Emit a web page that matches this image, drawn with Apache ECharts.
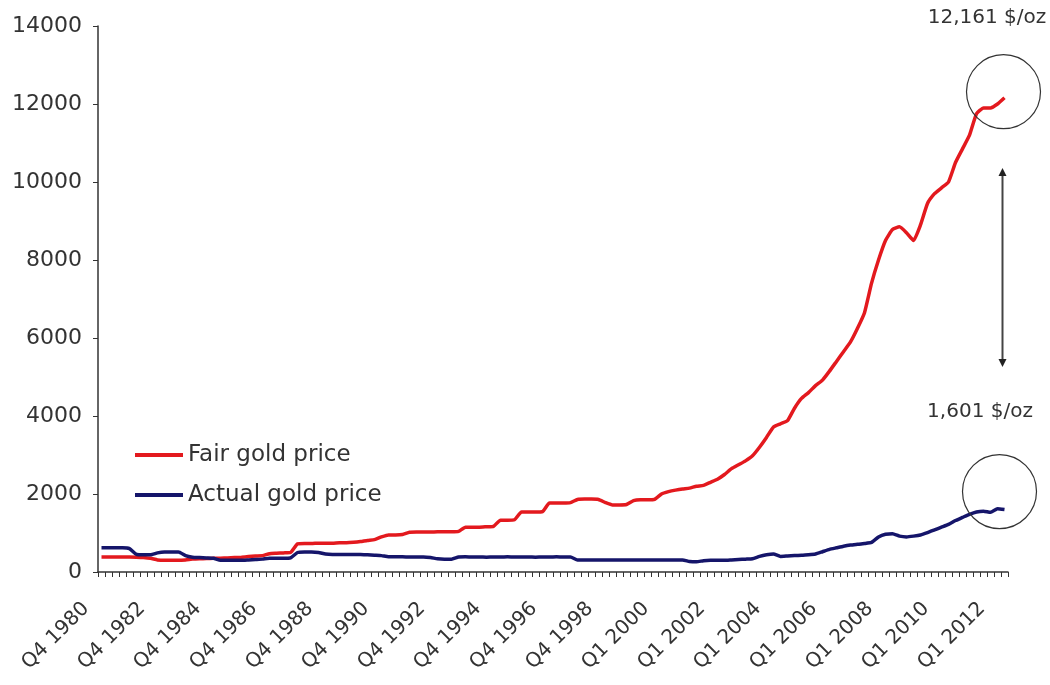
<!DOCTYPE html>
<html>
<head>
<meta charset="utf-8">
<script src="https://cdn.jsdelivr.net/npm/echarts@6/dist/echarts.min.js"></script>
<style>
  html, body { margin: 0; padding: 0; background: #fff; }
  #main { width: 1050px; height: 685px; }
</style>
</head>
<body>
<div id="main"></div>
<script>
// tick labels, one every 8 quarters
var tickLabels = ['Q4 1980', 'Q4 1982', 'Q4 1984', 'Q4 1986', 'Q4 1988', 'Q4 1990',
  'Q4 1992', 'Q4 1994', 'Q4 1996', 'Q4 1998', 'Q1 2000', 'Q1 2002', 'Q1 2004',
  'Q1 2006', 'Q1 2008', 'Q1 2010', 'Q1 2012'];

// fair gold price ($/oz)
var fairPrice = [
  385, 385, 385, 385, 385, 380, 370, 350, 310, 300, 300, 300, 310,
  330, 340, 345, 350, 355, 360, 370, 380, 395, 410, 420,
  470, 480, 490, 500, 720,
  730, 730, 740, 740, 740, 750, 750, 760, 780, 810, 830,
  900, 950, 950, 960,
  1020, 1025, 1025, 1025, 1030, 1030, 1030, 1040,
  1150, 1150, 1150, 1160, 1170, 1330, 1330, 1340,
  1540, 1540, 1540, 1550, 1770, 1770, 1770, 1780,
  1860, 1870, 1870, 1860, 1780, 1720, 1720, 1730,
  1830, 1850, 1850, 1860, 2000, 2060, 2100, 2130,
  2150, 2200, 2220, 2300, 2380, 2500, 2650, 2750, 2850, 2980,
  3200, 3450, 3720, 3800, 3880, 4200, 4450, 4600, 4780, 4920,
  5150, 5400, 5650, 5900, 6250, 6650, 7400, 8000, 8500, 8780,
  8850, 8700, 8500, 8900, 9450, 9700, 9850, 10000, 10500, 10850,
  11200, 11750, 11900, 11900, 12000, 12161
];

// actual gold price ($/oz)
var actualPrice = [
  620, 620, 620, 620, 600, 450, 440, 440,
  490, 510, 510, 510, 420, 380, 370, 360, 350,
  300, 300, 300, 300, 310, 320, 330,
  350, 350, 350, 360, 500, 510, 510, 500,
  460, 450, 450, 450, 450, 450, 440, 430, 420,
  390, 390, 390, 385, 385, 385, 370, 340, 330, 330,
  385, 390, 385, 385, 380, 385, 385, 390, 385, 385, 385, 380, 385, 385, 390, 385, 385,
  310, 310, 310, 310, 305, 310, 310, 310, 310, 310, 305, 310, 310, 310, 310, 310,
  270, 260, 290, 300, 300, 300, 310, 320, 330, 340,
  400, 440, 460, 400, 410, 420, 430, 440, 460, 520,
  580, 620, 660, 690, 710, 730, 760, 900, 970, 980,
  920, 900, 920, 950, 1010, 1080, 1150, 1220, 1320, 1400,
  1480, 1540, 1560, 1530, 1620, 1601
];

var categories = fairPrice.map(function (v, i) {
  var k = Math.floor(i / 8);
  return i % 8 === 0 ? tickLabels[k] : tickLabels[k] + ' +' + (i % 8);
});

var FONT = 'DejaVu Sans';
var myChart = echarts.init(document.getElementById('main'));

myChart.setOption({
  backgroundColor: '#fff',
  animation: false,
  grid: { left: 98, right: 42, top: 26, bottom: 113 },
  legend: {
    orient: 'vertical',
    left: 130,
    top: 438,
    icon: 'rect',
    itemWidth: 48,
    itemHeight: 4,
    itemGap: 16,
    textStyle: { fontFamily: FONT, fontSize: 23, color: '#333', lineHeight: 24 },
    data: ['Fair gold price', 'Actual gold price']
  },
  xAxis: {
    type: 'category',
    data: categories,
    boundaryGap: true,
    axisLine: { lineStyle: { color: '#333', width: 1.5 } },
    axisTick: { show: true, interval: 0, length: 5, lineStyle: { color: '#333' } },
    axisLabel: {
      interval: 7,
      rotate: 45,
      margin: 18,
      padding: [0, 22, 0, 0],
      fontFamily: FONT,
      fontSize: 20,
      color: '#333',
      formatter: function (v, i) { return i % 8 === 0 ? tickLabels[i / 8] : ''; }
    },
    splitLine: { show: false }
  },
  yAxis: {
    type: 'value',
    min: 0,
    max: 14000,
    interval: 2000,
    axisLine: { show: true, lineStyle: { color: '#333', width: 1.5 } },
    axisTick: { show: true, length: 5, lineStyle: { color: '#333' } },
    axisLabel: {
      margin: 16, fontFamily: FONT, fontSize: 22, color: '#333',
      formatter: function (v) { return String(v); }
    },
    splitLine: { show: false }
  },
  series: [
    {
      name: 'Fair gold price',
      type: 'line',
      data: fairPrice,
      symbol: 'none',
      smooth: 0.15,
      lineStyle: { color: '#e3191e', width: 3.5 },
      itemStyle: { color: '#e3191e' },
      z: 3
    },
    {
      name: 'Actual gold price',
      type: 'line',
      data: actualPrice,
      symbol: 'none',
      smooth: 0.15,
      lineStyle: { color: '#15156a', width: 3.5 },
      itemStyle: { color: '#15156a' },
      z: 4
    }
  ]
});

// annotations: circles round the last points, labels and the double arrow
var last = fairPrice.length - 1;
var pFair = myChart.convertToPixel({ xAxisIndex: 0, yAxisIndex: 0 }, [last, fairPrice[last]]);
var pAct = myChart.convertToPixel({ xAxisIndex: 0, yAxisIndex: 0 }, [last, actualPrice[last]]);
var arrowX = pFair[0] - 2;
var arrowTop = 168, arrowBottom = 367;

myChart.setOption({
  graphic: [
    { type: 'circle', shape: { cx: pFair[0] - 1, cy: pFair[1] - 6, r: 37 },
      style: { fill: 'none', stroke: '#333', lineWidth: 1.2 }, z: 10 },
    { type: 'circle', shape: { cx: pAct[0] - 5, cy: pAct[1] - 18, r: 37 },
      style: { fill: 'none', stroke: '#333', lineWidth: 1.2 }, z: 10 },
    { type: 'text', x: 987, y: 18,
      style: { text: '12,161 $/oz', fill: '#333', font: '20px "DejaVu Sans"', align: 'center', verticalAlign: 'middle' } },
    { type: 'text', x: 980, y: 412,
      style: { text: '1,601 $/oz', fill: '#333', font: '20px "DejaVu Sans"', align: 'center', verticalAlign: 'middle' } },
    { type: 'line', shape: { x1: arrowX, y1: arrowTop + 4, x2: arrowX, y2: arrowBottom - 4 },
      style: { stroke: '#444', lineWidth: 2 } },
    { type: 'polygon', shape: { points: [[arrowX, arrowTop], [arrowX - 4, arrowTop + 8], [arrowX + 4, arrowTop + 8]] },
      style: { fill: '#222' } },
    { type: 'polygon', shape: { points: [[arrowX, arrowBottom], [arrowX - 4, arrowBottom - 8], [arrowX + 4, arrowBottom - 8]] },
      style: { fill: '#222' } }
  ]
});
</script>
</body>
</html>
